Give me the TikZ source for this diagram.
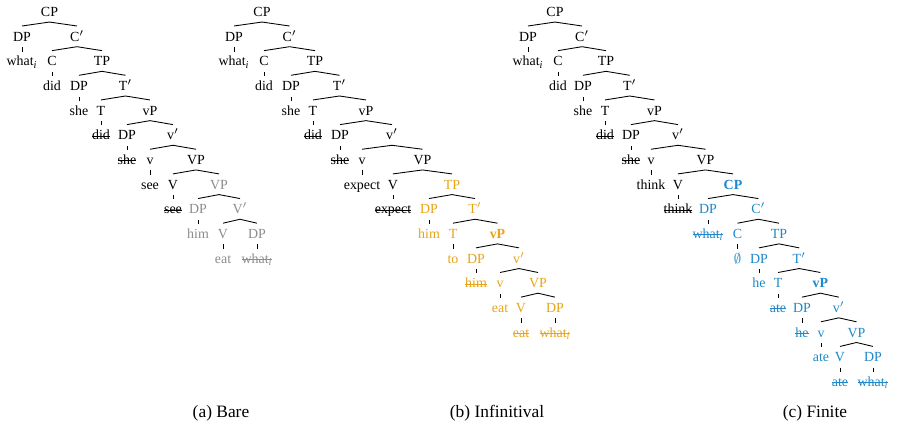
\documentclass[tikz,border=0pt]{standalone}
\usepackage{fontspec}
\setmainfont{Liberation Serif}
\definecolor{tgray}{HTML}{8C8C8C}
\definecolor{torange}{HTML}{E8A317}
\definecolor{tblue}{HTML}{1E88C8}
\newcommand\stk[1]{{\setbox0\hbox{#1}\rlap{\rule[0.5ex]{\wd0}{0.55pt}}\box0}}
\newcommand\Roof[3]{\draw[edge] (#2.north) -- (#1.south) -- (#3.north);}
\newcommand\Tick[2]{\draw[tk] (#1.south) -- (#2.north);}
\newcommand\R[1]{16.6+24.65*#1}
\newcommand\wi{what\textsubscript{\itshape i}}
\tikzset{
  lbl/.style={anchor=base, inner sep=0pt, text height=8.56pt, text depth=2.93pt, font=\fontsize{8}{9.6}\selectfont},
  gr/.style={text=tgray},
  og/.style={text=torange},
  bl/.style={text=tblue},
  edge/.style={line width=0.5pt},
  tk/.style={line width=0.5pt, shorten <=0.3pt, shorten >=-0.5pt},
  captxt/.style={anchor=base, inner sep=0pt, font=\fontsize{10}{12}\selectfont}
}
\begin{document}
\begin{tikzpicture}[x=0.5747pt, y=-0.5747pt]
\useasboundingbox (0,0) rectangle (897,427);
% ---------------- (a) ----------------
\node[lbl] (aCP) at (49.5,{\R{0}}) {CP};
\node[lbl] (aDP1) at (22,{\R{1}}) {DP};
\node[lbl] (aCb) at (77,{\R{1}}) {C$'$};
\node[lbl] (awhat) at (22,{\R{2}}) {\wi};
\node[lbl] (aC) at (52,{\R{2}}) {C};
\node[lbl] (aTP) at (102,{\R{2}}) {TP};
\node[lbl] (adid) at (52,{\R{3}}) {did};
\node[lbl] (aDP2) at (79,{\R{3}}) {DP};
\node[lbl] (aTb) at (125.5,{\R{3}}) {T$'$};
\node[lbl] (ashe) at (79,{\R{4}}) {she};
\node[lbl] (aT) at (101,{\R{4}}) {T};
\node[lbl] (avP) at (150,{\R{4}}) {vP};
\node[lbl] (adid2) at (101,{\R{5}}) {\stk{did}};
\node[lbl] (aDP3) at (127,{\R{5}}) {DP};
\node[lbl] (avb) at (173,{\R{5}}) {v$'$};
\node[lbl] (ashe2) at (127,{\R{6}}) {\stk{she}};
\node[lbl] (av) at (150,{\R{6}}) {v};
\node[lbl] (aVP) at (196,{\R{6}}) {VP};
\node[lbl] (asee) at (150,{\R{7}}) {see};
\node[lbl] (aV) at (173,{\R{7}}) {V};
\node[lbl,gr] (aVP2) at (219,{\R{7}}) {VP};
\node[lbl] (asee2) at (173,{\R{8}}) {\stk{see}};
\node[lbl,gr] (aDP4) at (198,{\R{8}}) {DP};
\node[lbl,gr] (aVb) at (240,{\R{8}}) {V$'$};
\node[lbl,gr] (ahim) at (198,{\R{9}}) {him};
\node[lbl,gr] (aV2) at (223,{\R{9}}) {V};
\node[lbl,gr] (aDP5) at (257,{\R{9}}) {DP};
\node[lbl,gr] (aeat) at (223,{\R{10}}) {eat};
\node[lbl,gr] (awhat2) at (257,{\R{10}}) {\stk{\wi}};
\Roof{aCP}{aDP1}{aCb} \Tick{aDP1}{awhat}
\Roof{aCb}{aC}{aTP} \Tick{aC}{adid}
\Roof{aTP}{aDP2}{aTb} \Tick{aDP2}{ashe}
\Roof{aTb}{aT}{avP} \Tick{aT}{adid2}
\Roof{avP}{aDP3}{avb} \Tick{aDP3}{ashe2}
\Roof{avb}{av}{aVP} \Tick{av}{asee}
\Roof{aVP}{aV}{aVP2} \Tick{aV}{asee2}
\Roof{aVP2}{aDP4}{aVb} \Tick{aDP4}{ahim}
\Roof{aVb}{aV2}{aDP5} \Tick{aV2}{aeat} \Tick{aDP5}{awhat2}
% ---------------- (b) ----------------
\node[lbl] (bCP) at (262,{\R{0}}) {CP};
\node[lbl] (bDP1) at (234,{\R{1}}) {DP};
\node[lbl] (bCb) at (289.5,{\R{1}}) {C$'$};
\node[lbl] (bwhat) at (234,{\R{2}}) {\wi};
\node[lbl] (bC) at (264,{\R{2}}) {C};
\node[lbl] (bTP) at (315,{\R{2}}) {TP};
\node[lbl] (bdid) at (264,{\R{3}}) {did};
\node[lbl] (bDP2) at (291,{\R{3}}) {DP};
\node[lbl] (bTb) at (339.5,{\R{3}}) {T$'$};
\node[lbl] (bshe) at (291,{\R{4}}) {she};
\node[lbl] (bT) at (313,{\R{4}}) {T};
\node[lbl] (bvP) at (366,{\R{4}}) {vP};
\node[lbl] (bdid2) at (313,{\R{5}}) {\stk{did}};
\node[lbl] (bDP3) at (340,{\R{5}}) {DP};
\node[lbl] (bvb) at (392,{\R{5}}) {v$'$};
\node[lbl] (bshe2) at (340,{\R{6}}) {\stk{she}};
\node[lbl] (bv) at (362,{\R{6}}) {v};
\node[lbl] (bVP) at (422.5,{\R{6}}) {VP};
\node[lbl] (bexp) at (362,{\R{7}}) {expect};
\node[lbl] (bV) at (393,{\R{7}}) {V};
\node[lbl,og] (bTP2) at (452,{\R{7}}) {TP};
\node[lbl] (bexp2) at (393,{\R{8}}) {\stk{expect}};
\node[lbl,og] (bDP4) at (429,{\R{8}}) {DP};
\node[lbl,og] (bTb2) at (475,{\R{8}}) {T$'$};
\node[lbl,og] (bhim) at (429,{\R{9}}) {him};
\node[lbl,og] (bT2) at (453,{\R{9}}) {T};
\node[lbl,og] (bvP2) at (497.5,{\R{9}}) {\bfseries vP};
\node[lbl,og] (bto) at (453,{\R{10}}) {to};
\node[lbl,og] (bDP5) at (476,{\R{10}}) {DP};
\node[lbl,og] (bvb2) at (519,{\R{10}}) {v$'$};
\node[lbl,og] (bhim2) at (476,{\R{11}}) {\stk{him}};
\node[lbl,og] (bv2) at (500,{\R{11}}) {v};
\node[lbl,og] (bVP2) at (538,{\R{11}}) {VP};
\node[lbl,og] (beat) at (500,{\R{12}}) {eat};
\node[lbl,og] (bV2) at (521,{\R{12}}) {V};
\node[lbl,og] (bDP6) at (555,{\R{12}}) {DP};
\node[lbl,og] (beat2) at (521,{\R{13}}) {\stk{eat}};
\node[lbl,og] (bwhat2) at (555,{\R{13}}) {\stk{\wi}};
\Roof{bCP}{bDP1}{bCb} \Tick{bDP1}{bwhat}
\Roof{bCb}{bC}{bTP} \Tick{bC}{bdid}
\Roof{bTP}{bDP2}{bTb} \Tick{bDP2}{bshe}
\Roof{bTb}{bT}{bvP} \Tick{bT}{bdid2}
\Roof{bvP}{bDP3}{bvb} \Tick{bDP3}{bshe2}
\Roof{bvb}{bv}{bVP} \Tick{bv}{bexp}
\Roof{bVP}{bV}{bTP2} \Tick{bV}{bexp2}
\Roof{bTP2}{bDP4}{bTb2} \Tick{bDP4}{bhim}
\Roof{bTb2}{bT2}{bvP2} \Tick{bT2}{bto}
\Roof{bvP2}{bDP5}{bvb2} \Tick{bDP5}{bhim2}
\Roof{bvb2}{bv2}{bVP2} \Tick{bv2}{beat}
\Roof{bVP2}{bV2}{bDP6} \Tick{bV2}{beat2} \Tick{bDP6}{bwhat2}
% ---------------- (c) ----------------
\node[lbl] (cCP) at (555,{\R{0}}) {CP};
\node[lbl] (cDP1) at (528,{\R{1}}) {DP};
\node[lbl] (cCb) at (582,{\R{1}}) {C$'$};
\node[lbl] (cwhat) at (528,{\R{2}}) {\wi};
\node[lbl] (cC) at (558,{\R{2}}) {C};
\node[lbl] (cTP) at (606,{\R{2}}) {TP};
\node[lbl] (cdid) at (558,{\R{3}}) {did};
\node[lbl] (cDP2) at (583,{\R{3}}) {DP};
\node[lbl] (cTb) at (629.75,{\R{3}}) {T$'$};
\node[lbl] (cshe) at (583,{\R{4}}) {she};
\node[lbl] (cT) at (605,{\R{4}}) {T};
\node[lbl] (cvP) at (654.5,{\R{4}}) {vP};
\node[lbl] (cdid2) at (605,{\R{5}}) {\stk{did}};
\node[lbl] (cDP3) at (631,{\R{5}}) {DP};
\node[lbl] (cvb) at (678,{\R{5}}) {v$'$};
\node[lbl] (cshe2) at (631,{\R{6}}) {\stk{she}};
\node[lbl] (cv) at (651,{\R{6}}) {v};
\node[lbl] (cVP) at (705.5,{\R{6}}) {VP};
\node[lbl] (cthink) at (651,{\R{7}}) {think};
\node[lbl] (cV) at (678,{\R{7}}) {V};
\node[lbl,bl] (cCP2) at (733,{\R{7}}) {\bfseries CP};
\node[lbl] (cthink2) at (678,{\R{8}}) {\stk{think}};
\node[lbl,bl] (cDP4) at (708,{\R{8}}) {DP};
\node[lbl,bl] (cCb2) at (758.3,{\R{8}}) {C$'$};
\node[lbl,bl] (cwhat2) at (708,{\R{9}}) {\stk{\wi}};
\node[lbl,bl] (cC2) at (737.5,{\R{9}}) {C};
\node[lbl,bl] (cTP2) at (779,{\R{9}}) {TP};
\node[lbl,bl] (cempty) at (737.5,{\R{10}}) {$\emptyset$};
\node[lbl,bl] (cDP5) at (759,{\R{10}}) {DP};
\node[lbl,bl] (cTb2) at (799.2,{\R{10}}) {T$'$};
\node[lbl,bl] (che) at (759,{\R{11}}) {he};
\node[lbl,bl] (cT2) at (778,{\R{11}}) {T};
\node[lbl,bl] (cvP2) at (820.4,{\R{11}}) {\bfseries vP};
\node[lbl,bl] (cate) at (778,{\R{12}}) {\stk{ate}};
\node[lbl,bl] (cDP6) at (802,{\R{12}}) {DP};
\node[lbl,bl] (cvb2) at (838.75,{\R{12}}) {v$'$};
\node[lbl,bl] (che2) at (802,{\R{13}}) {\stk{he}};
\node[lbl,bl] (cv2) at (821,{\R{13}}) {v};
\node[lbl,bl] (cVP2) at (856.5,{\R{13}}) {VP};
\node[lbl,bl] (cate2) at (821,{\R{14}}) {ate};
\node[lbl,bl] (cV2) at (840,{\R{14}}) {V};
\node[lbl,bl] (cDP7) at (873,{\R{14}}) {DP};
\node[lbl,bl] (cate3) at (840,{\R{15}}) {\stk{ate}};
\node[lbl,bl] (cwhat3) at (873,{\R{15}}) {\stk{\wi}};
\Roof{cCP}{cDP1}{cCb} \Tick{cDP1}{cwhat}
\Roof{cCb}{cC}{cTP} \Tick{cC}{cdid}
\Roof{cTP}{cDP2}{cTb} \Tick{cDP2}{cshe}
\Roof{cTb}{cT}{cvP} \Tick{cT}{cdid2}
\Roof{cvP}{cDP3}{cvb} \Tick{cDP3}{cshe2}
\Roof{cvb}{cv}{cVP} \Tick{cv}{cthink}
\Roof{cVP}{cV}{cCP2} \Tick{cV}{cthink2}
\Roof{cCP2}{cDP4}{cCb2} \Tick{cDP4}{cwhat2}
\Roof{cCb2}{cC2}{cTP2} \Tick{cC2}{cempty}
\Roof{cTP2}{cDP5}{cTb2} \Tick{cDP5}{che}
\Roof{cTb2}{cT2}{cvP2} \Tick{cT2}{cate}
\Roof{cvP2}{cDP6}{cvb2} \Tick{cDP6}{che2}
\Roof{cvb2}{cv2}{cVP2} \Tick{cv2}{cate2}
\Roof{cVP2}{cV2}{cDP7} \Tick{cV2}{cate3} \Tick{cDP7}{cwhat3}
% ---------------- captions ----------------
\node[captxt] (capa) at (221,418) {(a) Bare};
\node[captxt] (capb) at (497,418) {(b) Infinitival};
\node[captxt] (capc) at (815,418) {(c) Finite};
\end{tikzpicture}
\end{document}
